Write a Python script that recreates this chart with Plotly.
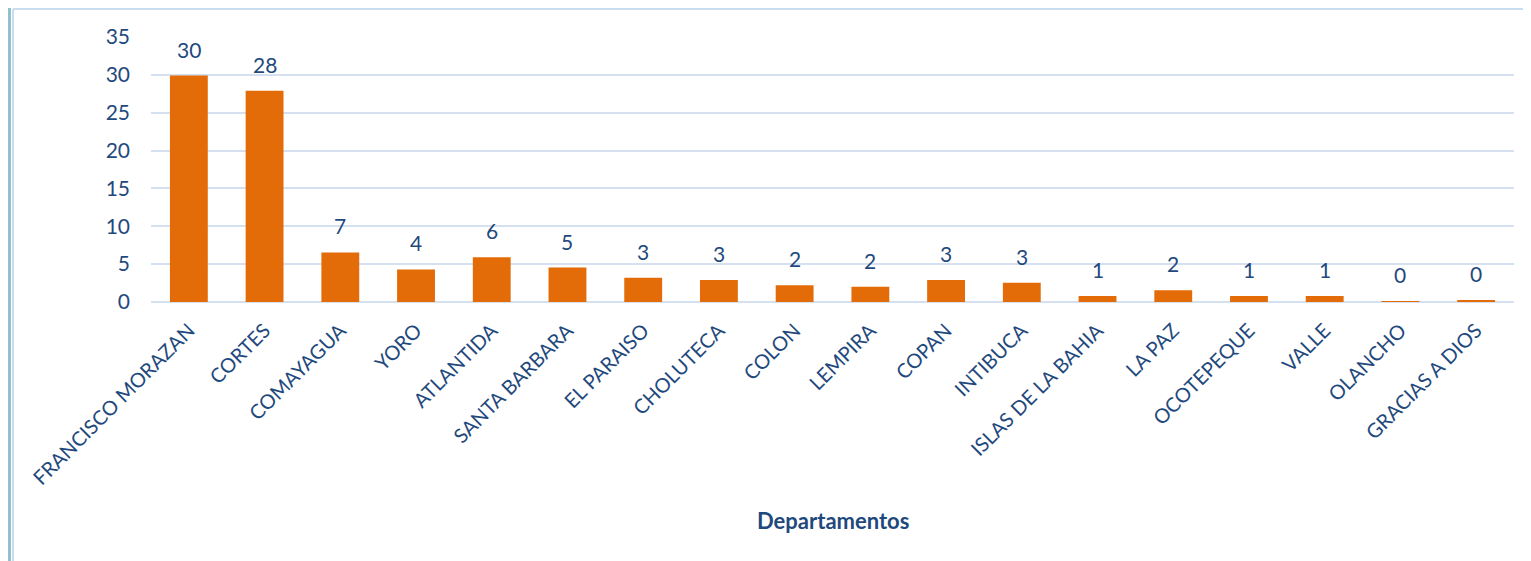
import plotly.graph_objects as go

departamentos = ["FRANCISCO MORAZAN", "CORTES", "COMAYAGUA", "YORO", "ATLANTIDA",
                 "SANTA BARBARA", "EL PARAISO", "CHOLUTECA", "COLON", "LEMPIRA", "COPAN",
                 "INTIBUCA", "ISLAS DE LA BAHIA", "LA PAZ", "OCOTEPEQUE", "VALLE",
                 "OLANCHO", "GRACIAS A DIOS"]
valores = [29.9, 27.9, 6.55, 4.3, 5.9, 4.55, 3.2, 2.9, 2.2, 2.0, 2.9, 2.55, 0.8, 1.55,
           0.8, 0.8, 0.13, 0.27]
etiquetas = [f"{v:.0f}" for v in valores]
y_ticks = [0, 5, 10, 15, 20, 25, 30, 35]

TXT = "#1F497D"
FONT = "Lato"

# figure geometry (page has an 8px body offset)
W, H = 1523, 553
L, R, T, B = 143, 17, 29, 259
PW, PH = W - L - R, H - T - B


def fx(px):
    return (px - L) / PW


def fy(py):
    return (H - B - py) / PH


fig = go.Figure()
fig.add_trace(go.Bar(
    x=departamentos, y=valores,
    marker=dict(color="#E36C09", line=dict(width=0)),
    hoverinfo="x+y",
))

for d, v, t in zip(departamentos, valores, etiquetas):
    fig.add_annotation(x=d, y=v, text=t, showarrow=False, yanchor="bottom",
                       yshift=12, font=dict(family=FONT, size=21, color=TXT))

fig.add_annotation(xref="paper", yref="paper", x=0.5, y=fy(512), yanchor="middle",
                   text="<b>Departamentos</b>", showarrow=False,
                   font=dict(family=FONT, size=22, color=TXT))

fig.update_layout(
    width=W, height=H,
    margin=dict(l=L, r=R, t=T, b=B, autoexpand=False),
    paper_bgcolor="white", plot_bgcolor="white",
    bargap=0.5,
    showlegend=False,
    font=dict(family=FONT, color=TXT),
    xaxis=dict(
        tickangle=-45, tickfont=dict(family=FONT, size=20, color=TXT),
        showgrid=False, showline=False, ticks="", automargin=False,
        ticklabelstandoff=12,
    ),
    yaxis=dict(
        range=[0, 35], tickvals=y_ticks, tickfont=dict(family=FONT, size=21, color=TXT),
        showgrid=True, gridcolor="#D5E1F1", gridwidth=2, zeroline=True,
        zerolinecolor="#D5E1F1", zerolinewidth=2, ticks="", ticklabelstandoff=20,
        automargin=False,
    ),
    shapes=[
        dict(type="rect", xref="paper", yref="paper",
             x0=fx(0), x1=fx(3), y0=fy(H), y1=fy(0),
             fillcolor="#8FC1CF", line=dict(width=0), layer="below"),
        dict(type="line", xref="paper", yref="paper",
             x0=fx(5), x1=fx(5), y0=fy(H), y1=fy(1),
             line=dict(color="#C9DDF0", width=2), layer="below"),
        dict(type="line", xref="paper", yref="paper",
             x0=fx(5), x1=fx(W), y0=fy(1), y1=fy(1),
             line=dict(color="#C9DDF0", width=2), layer="below"),
    ],
)

fig.write_html("out.html")
